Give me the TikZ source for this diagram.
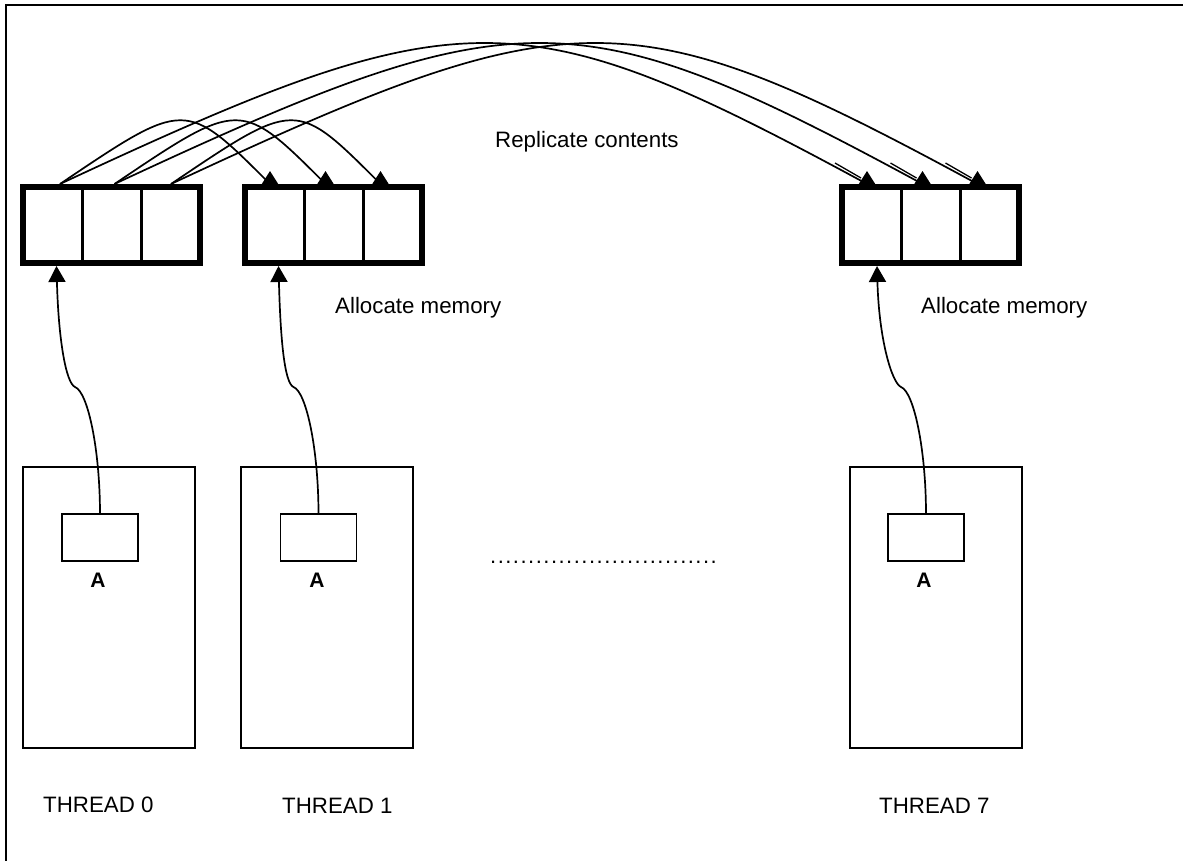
\documentclass[tikz,border=0pt]{standalone}
\usepackage{fontspec}
\setmainfont{Liberation Sans}
\usetikzlibrary{arrows.meta,fit}

\begin{document}
\begin{tikzpicture}[x=1pt,y=-1pt,
  cell/.style={draw,line width=3pt,minimum width=59pt,minimum height=76pt,inner sep=0pt,outer sep=0pt},
  memrow/.style={draw,line width=6.5pt,inner sep=0pt,outer sep=0pt},
  threadbox/.style={draw,line width=1.7pt,minimum width=172pt,minimum height=281pt,inner sep=0pt,outer sep=0pt},
  varbox/.style={draw,line width=1.7pt,minimum width=76pt,minimum height=47pt,inner sep=0pt,outer sep=0pt},
  lbl/.style={font=\fontsize{22.3pt}{26pt}\selectfont,inner sep=0pt,anchor=base west},
  varlbl/.style={font=\fontsize{21pt}{25pt}\selectfont\bfseries,inner sep=0pt,anchor=base},
  link/.style={line width=1.7pt},
  uplink/.style={link,-{Triangle[length=16pt,width=17pt]}},
  copylink/.style={link,-{Triangle[length=13pt,width=16pt]}}
]
\useasboundingbox (0,0) rectangle (1183,861);
\fill[white] (0,0) rectangle (1183,861);

% outer frame (continues past the page on the right and bottom)
\draw[line width=2.2pt] (6,5) rectangle (1210,890);

% memory rows
\foreach \r/\x in {0/52.5,1/274.5,7/871.5}{
  \node[cell] (c\r0) at (\x,225) {};
  \node[cell] (c\r1) at (\x+59,225) {};
  \node[cell] (c\r2) at (\x+118,225) {};
  \node[memrow,fit=(c\r0)(c\r2)] (m\r) {};
}

% threads
\node[threadbox] (t0) at (109,607.5) {};
\node[threadbox] (t1) at (327,607.5) {};
\node[threadbox] (t7) at (936,607.5) {};
\node[varbox] (a0) at (100,537.5) {};
\node[varbox] (a1) at (318.5,537.5) {};
\node[varbox] (a7) at (926,537.5) {};
\node[varlbl] (la0) at (98,587) {A};
\node[varlbl] (la1) at (317,587) {A};
\node[varlbl] (la7) at (924,587) {A};

\node[lbl] (th0) at (43,812) {THREAD 0};
\node[lbl] (th1) at (282,813) {THREAD 1};
\node[lbl] (th7) at (879,813) {THREAD 7};

\node[lbl] (rep) at (495,148) {Replicate contents};
\node[lbl] (al1) at (335,313) {Allocate memory};
\node[lbl] (al7) at (921,313) {Allocate memory};
\node[lbl,font=\fontsize{22pt}{26pt}\selectfont] (more) at (490,563)
  {\foreach \i in {1,...,30}{\makebox[7.6pt][l]{.}}};

% allocation arrows
\foreach \t/\dx in {0/4,1/4,7/5.5}{
  \draw[uplink] (a\t.north) .. controls +(0,-64) and +(13,5) .. ++(-25,-127)
     .. controls +(-9,-4) and +(2,74) .. ([xshift=\dx pt,yshift=-3pt]c\t0.south);
}

% start and end points of the copies
\foreach \k/\sx/\ex in {0/7.5/-4.5,1/3/-8,2/0.5/-12}{
  \coordinate (s\k) at ([xshift=\sx pt,yshift=3pt]c0\k.north);
  \coordinate (e\k) at ([xshift=\ex pt,yshift=3pt]c1\k.north);
  \coordinate (f\k) at ([xshift=\ex pt,yshift=3pt]c7\k.north);
}

% copies to thread 1
\foreach \k in {0,1,2}{
  \draw[copylink] (s\k) .. controls +(126,-85) and +(-85,-85) .. (e\k) -- ++(0,-13);
}
% copies to thread 7
\foreach \k in {0,1,2}{
  \draw[copylink] (s\k) .. controls +(403,-188) and +(-347,-188) .. (f\k) -- ++(0,-13);
  \draw[line width=1.3pt] ([shift={(-32,-21)}]f\k) -- ([shift={(-6,-6)}]f\k);
}
\end{tikzpicture}
\end{document}
